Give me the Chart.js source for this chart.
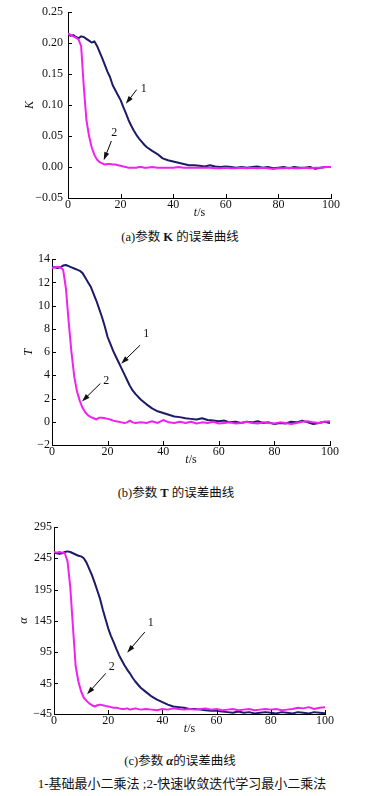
<!DOCTYPE html>
<html>
<head>
<meta charset="utf-8">
<script src="https://cdn.jsdelivr.net/npm/chart.js@4.4.1/dist/chart.umd.min.js"></script>
<style>
	body{margin:0;background:#fff;width:368px;height:796px;position:relative;overflow:hidden;}
	.box{position:absolute;left:0;width:368px;height:225px;}
	.cap{position:absolute;left:0;text-align:center;font-size:12.5px;line-height:16px;color:#111;font-family:"Liberation Serif","Noto Sans CJK SC",serif;white-space:nowrap;}
	.cap b{font-family:"Liberation Serif",serif;}
	.cap.note{font-size:13px;}
</style>
</head>
<body>
<div class="box" style="top:0px"><canvas id="chartK" width="368" height="225"></canvas></div>
<div class="cap" style="top:229px;width:360px">(a)参数 <b>K</b> 的误差曲线</div>
<div class="box" style="top:250px"><canvas id="chartT" width="368" height="225"></canvas></div>
<div class="cap" style="top:485px;width:352px">(b)参数 <b>T</b> 的误差曲线</div>
<div class="box" style="top:515px"><canvas id="chartA" width="368" height="225"></canvas></div>
<div class="cap" style="top:753px;width:360px">(c)参数 <b><i>α</i></b>的误差曲线</div>
<div class="cap note" style="top:776px;width:364px">1-基础最小二乘法 ;2-快速收敛迭代学习最小二乘法</div>
<script>
	// time axis (s)
	var timeS = [0,1,2,3,4,5,6,7,8,9,10,11,12,13,14,15,16,17,18,19,20,21,22,23,24,25,26,27,28,29,30,
		32,34,36,38,40,42,44,46,48,50,52,54,56,58,60,62,64,66,68,70,72,74,76,78,80,82,84,86,88,90,92,94,96,98,100];

	// (a) K error, 1 = basic least squares, 2 = fast iterative learning
	var kBasic = [0.214,0.212,0.213,0.210,0.208,0.211,0.210,0.207,0.204,0.201,0.203,0.196,0.186,0.176,0.165,0.154,0.145,0.132,0.124,0.116,0.108,0.097,0.087,0.076,0.067,0.059,0.052,0.046,0.041,0.036,0.032,
		0.026,0.021,0.014,0.011,0.009,0.007,0.005,0.003,0.003,0.002,0.001,0.003,0.001,0.000,0.001,0.000,-0.001,0.000,-0.001,0.000,0.001,-0.001,0.000,-0.002,-0.001,0.000,-0.002,0.000,-0.001,-0.001,0.000,-0.003,-0.001,0.000,0.000];
	var kFast = [0.216,0.213,0.211,0.209,0.206,0.195,0.130,0.076,0.050,0.032,0.020,0.012,0.008,0.006,0.004,0.005,0.005,0.004,0.004,0.003,0.002,0.001,0.000,-0.001,-0.001,-0.001,-0.001,0.000,0.000,-0.001,-0.001,
		0.000,-0.001,-0.001,-0.001,-0.001,0.000,-0.001,-0.001,-0.001,-0.001,-0.001,-0.001,-0.002,-0.002,-0.001,-0.002,-0.002,-0.001,-0.002,-0.001,-0.002,-0.001,-0.002,-0.003,-0.002,-0.002,-0.001,-0.002,-0.002,-0.001,-0.002,-0.001,-0.001,0.000,0.000];

	// (b) T error
	var tBasic = [13.3,13.3,13.25,13.3,13.45,13.5,13.4,13.3,13.2,13.1,13.0,12.8,12.4,12.0,11.6,11.0,10.4,9.7,9.0,8.2,7.3,6.7,6.1,5.6,5.1,4.6,4.1,3.6,3.1,2.7,2.4,
		1.9,1.5,1.15,0.9,0.75,0.6,0.45,0.4,0.3,0.25,0.2,0.3,0.15,0.1,0.05,0.1,-0.05,0.0,-0.1,0.0,-0.05,0.05,-0.1,-0.05,-0.2,-0.1,-0.15,0.0,-0.05,0.1,-0.05,-0.2,-0.1,0.0,-0.1];
	var tFast = [13.25,13.3,13.35,13.3,13.1,11.5,8.6,6.0,3.9,2.6,1.8,1.2,0.8,0.55,0.4,0.3,0.2,0.35,0.35,0.3,0.25,0.2,0.1,0.05,0.0,-0.05,-0.1,-0.05,0.1,-0.05,-0.1,
		-0.05,-0.1,0.05,-0.1,0.15,-0.05,-0.1,0.0,-0.1,0.0,-0.15,-0.05,-0.1,0.0,-0.15,-0.1,-0.05,-0.15,-0.1,0.0,-0.1,-0.15,-0.05,-0.1,-0.15,-0.05,-0.1,-0.2,-0.1,0.0,0.05,-0.05,-0.1,0.0,0.05];

	// (c) alpha error
	var aBasic = [254,253,252,253,255,256,255,253,251,249,248,245,238,228,218,206,193,180,163,148,133,121,111,100,90,82,74,67,61,54,48,
		38,31,24,19,15,11,8,7,6,4,4,3,2,1,1,0,-1,-2,0,-2,-1,-3,-2,-1,-2,-3,-1,-2,-3,-1,-2,-3,-1,-2,-3];
	var aFast = [255,254,255,254,253,240,199,135,72,48,32,22,17,13,10,8,10,11,10,9,8,7,6,6,5,4,4,5,3,4,5,
		3,4,3,2,4,3,5,4,3,4,3,4,5,3,4,2,3,4,2,3,4,2,3,4,3,4,2,3,4,6,5,7,4,6,7];

	// tick values and labels
	var xTickValues = [0,20,40,60,80,100];
	var xTickLabels = ['0','20','40','60','80','100'];
	var kTickValues = [-0.05,0,0.05,0.10,0.15,0.20,0.25];
	var kTickLabels = ['\u22120.05','0.00','0.05','0.10','0.15','0.20','0.25'];
	var tTickValues = [-2,0,2,4,6,8,10,12,14];
	var tTickLabels = ['\u22122','0','2','4','6','8','10','12','14'];
	var aTickValues = [-4,45,95,145,195,245,295];
	var aTickLabels = ['\u221245','45','95','145','195','245','295'];

	// arrow annotations, in data coordinates [t, value]
	var kArrows = [
		{label:'1', from:[26.1,0.125], to:[22,0.102], text:[28.8,0.127]},
		{label:'2', from:[16.5,0.042], to:[13.6,0.011], text:[17.6,0.055]}
	];
	var tArrows = [
		{label:'1', from:[31.7,6.6], to:[24.9,5.0], text:[33.9,7.6]},
		{label:'2', from:[17.4,3.3], to:[10.8,1.75], text:[19.5,3.5]}
	];
	var aArrows = [
		{label:'1', from:[33.5,127], to:[27,94], text:[35.7,142]},
		{label:'2', from:[19.1,61], to:[12.2,27.4], text:[21.3,71]}
	];

	var navyColor = '#1b1b68';
	var pinkColor = '#f022f0';
	var serif = '"Liberation Serif", serif';

	function toPoints(xs, ys){
		var pts = [];
		for(var i=0;i<xs.length;i++){
			pts.push({x: xs[i], y: ys[i]});
		}
		return pts;
	}

	var extrasPlugin = {
		id: 'extras',
		afterDraw: function(chart, args, o){
			var ctx = chart.ctx, a = chart.chartArea;
			var xs = chart.scales.x, ys = chart.scales.y;
			ctx.save();
			ctx.strokeStyle = '#000';
			ctx.fillStyle = '#111';
			ctx.lineWidth = 1;
			// inward tick marks
			ctx.beginPath();
			xs.ticks.forEach(function(t){
				var px = Math.round(xs.getPixelForValue(t.value)) + 0.5;
				ctx.moveTo(px, a.bottom);
				ctx.lineTo(px, a.bottom - 4);
			});
			ys.ticks.forEach(function(t){
				var py = Math.round(ys.getPixelForValue(t.value)) + 0.5;
				ctx.moveTo(a.left, py);
				ctx.lineTo(a.left + 4, py);
			});
			ctx.stroke();

			// arrows + curve numbers
			ctx.font = '12px ' + serif;
			ctx.textAlign = 'center';
			ctx.textBaseline = 'middle';
			o.arrows.forEach(function(ar){
				var x1 = xs.getPixelForValue(ar.from[0]), y1 = ys.getPixelForValue(ar.from[1]);
				var x2 = xs.getPixelForValue(ar.to[0]), y2 = ys.getPixelForValue(ar.to[1]);
				var ang = Math.atan2(y2 - y1, x2 - x1);
				var c = Math.cos(ang), s = Math.sin(ang);
				ctx.beginPath();
				ctx.moveTo(x1, y1);
				ctx.lineTo(x2 - 5*c, y2 - 5*s);
				ctx.stroke();
				ctx.beginPath();
				ctx.moveTo(x2, y2);
				ctx.lineTo(x2 - 8*c + 2.6*s, y2 - 8*s - 2.6*c);
				ctx.lineTo(x2 - 8*c - 2.6*s, y2 - 8*s + 2.6*c);
				ctx.closePath();
				ctx.fill();
				ctx.fillText(ar.label, xs.getPixelForValue(ar.text[0]), ys.getPixelForValue(ar.text[1]));
			});

			// x title  t/s
			ctx.textAlign = 'left';
			ctx.font = 'italic 12px ' + serif;
			var w1 = ctx.measureText('t').width;
			ctx.font = '12px ' + serif;
			var w2 = ctx.measureText('/s').width;
			var sx = (a.left + a.right)/2 - (w1 + w2)/2;
			var sy = a.bottom + 15;
			ctx.font = 'italic 12px ' + serif;
			ctx.fillText('t', sx, sy);
			ctx.font = '12px ' + serif;
			ctx.fillText('/s', sx + w1, sy);

			// y title, rotated
			ctx.translate(a.left - o.yTitleGap, (a.top + a.bottom)/2);
			ctx.rotate(-Math.PI/2);
			ctx.textAlign = 'center';
			ctx.font = 'italic 12px ' + serif;
			ctx.fillText(o.yTitle, 0, 0);
			ctx.restore();
		}
	};

	function buildChart(id, cfg){
		var tickFont = {family: serif, size: 12};
		var ctx = document.getElementById(id).getContext('2d');
		return new Chart(ctx, {
			type: 'line',
			data: {
				datasets: [
					{label: '2', data: toPoints(timeS, cfg.fast), borderColor: pinkColor},
					{label: '1', data: toPoints(timeS, cfg.basic), borderColor: navyColor}
				]
			},
			options: {
				responsive: false,
				animation: false,
				events: [],
				layout: {padding: {left: 0, right: cfg.padRight, top: cfg.padTop, bottom: 0}},
				elements: {
					line: {borderWidth: 2, tension: 0, fill: false, borderJoinStyle: 'round'},
					point: {radius: 0}
				},
				scales: {
					x: {
						type: 'linear', min: 0, max: 100,
						afterBuildTicks: function(s){ s.ticks = xTickValues.map(function(v){ return {value: v}; }); },
						afterFit: function(s){ s.height = cfg.xAxisH; },
						ticks: {
							font: tickFont, color: '#111', padding: 0, maxRotation: 0, autoSkip: false,
							callback: function(v, i){ return xTickLabels[i]; }
						},
						grid: {display: true, drawOnChartArea: false, drawTicks: false},
						border: {display: true, color: '#000', width: 1}
					},
					y: {
						type: 'linear', min: cfg.yMin, max: cfg.yMax,
						afterBuildTicks: function(s){ s.ticks = cfg.yTicks.map(function(v){ return {value: v}; }); },
						afterFit: function(s){ s.width = cfg.yAxisW; },
						ticks: {
							font: tickFont, color: '#111', padding: cfg.yPad, autoSkip: false,
							callback: function(v, i){ return cfg.yLabels[i]; }
						},
						grid: {display: true, drawOnChartArea: false, drawTicks: false},
						border: {display: true, color: '#000', width: 1}
					}
				},
				plugins: {
					legend: {display: false},
					tooltip: {enabled: false},
					extras: {arrows: cfg.arrows, yTitle: cfg.yTitle, yTitleGap: cfg.yTitleGap}
				}
			},
			plugins: [extrasPlugin]
		});
	}

	buildChart('chartK', {
		basic: kBasic, fast: kFast, yMin: -0.05, yMax: 0.25, yTicks: kTickValues, yLabels: kTickLabels,
		arrows: kArrows, yTitle: 'K', yTitleGap: 38, yPad: 5,
		yAxisW: 68, xAxisH: 27, padTop: 12, padRight: 37
	});
	buildChart('chartT', {
		basic: tBasic, fast: tFast, yMin: -2, yMax: 14, yTicks: tTickValues, yLabels: tTickLabels,
		arrows: tArrows, yTitle: 'T', yTitleGap: 23, yPad: 2,
		yAxisW: 52, xAxisH: 30, padTop: 9, padRight: 38
	});
	buildChart('chartA', {
		basic: aBasic, fast: aFast, yMin: -4, yMax: 295, yTicks: aTickValues, yLabels: aTickLabels,
		arrows: aArrows, yTitle: '\u03b1', yTitleGap: 30, yPad: 2,
		yAxisW: 54, xAxisH: 26, padTop: 12, padRight: 43
	});
</script>
</body>
</html>
